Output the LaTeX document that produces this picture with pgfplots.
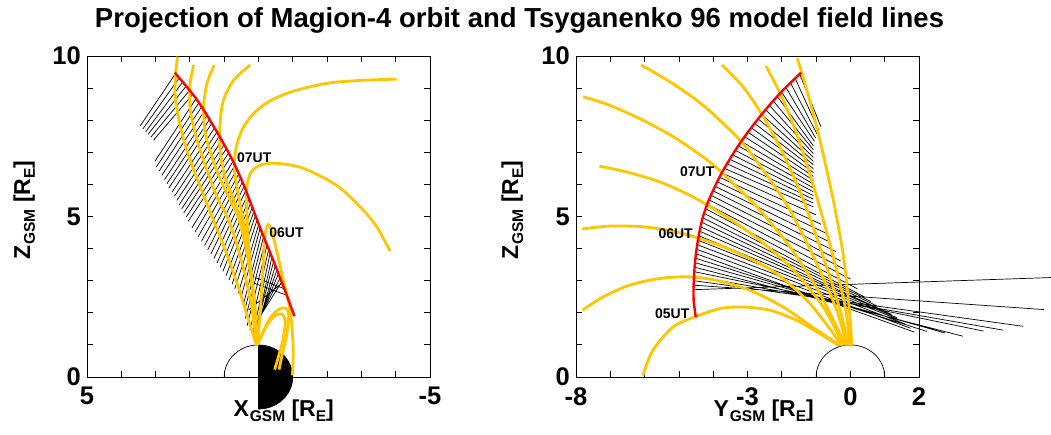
\documentclass[border=0pt]{standalone}
\usepackage{pgfplots}
\pgfplotsset{compat=1.18}
\usepackage{fontspec}
\setmainfont{Liberation Sans}
\definecolor{fl}{RGB}{255,198,0}
\newcommand{\sub}[1]{\raisebox{-5pt}{\fontsize{15.5}{15.5}\selectfont #1}}
\begin{document}
\begin{tikzpicture}
\useasboundingbox (0pt,0pt) rectangle (1051pt,435pt);
\pgfplotsset{
  panel/.style={
    scale only axis, width=343pt, height=321pt, anchor=south west,
    ymin=0, ymax=10, clip=false, unbounded coords=jump,
    ytick={0,5,10}, yticklabels={0,5,10},
    minor ytick={1,2,3,4,6,7,8,9},
    tick align=inside, major tick length=6pt, minor tick length=6pt,
    tick style={black, line width=0.8pt},
    axis line style={line width=0.9pt},
    ticklabel style={font=\fontsize{25.5}{25.5}\selectfont\bfseries},
    xticklabel style={inner sep=0pt, yshift=-10pt},
    yticklabel style={inner sep=0pt, xshift=-6pt},
  },
  yel/.style={fl, line width=2.8pt, smooth, no markers},
  hat/.style={black, line width=0.7pt, no markers},
  orb/.style={red, line width=2.4pt, smooth, no markers},
}
\node[anchor=base, font=\fontsize{27.5}{27.5}\selectfont\bfseries] at (519.5pt,407pt) {Projection of Magion-4 orbit and Tsyganenko 96 model field lines};
% ---------------- left panel -----------------
\begin{axis}[panel, at={(87pt,58pt)}, xmin=-5, xmax=5, x dir=reverse,
  xtick={-5,5}, xticklabels={-5,5}, minor xtick={-4,-3,-2,-1,0,1,2,3,4}]
\addplot[fill=black, draw=black, line width=0.6pt] coordinates {(0,1) (-0.174,0.985) (-0.342,0.940) (-0.5,0.866) (-0.643,0.766) (-0.766,0.643) (-0.866,0.5) (-0.940,0.342) (-0.985,0.174) (-1,0) (-0.985,-0.174) (-0.940,-0.342) (-0.866,-0.5) (-0.766,-0.643) (-0.643,-0.766) (-0.5,-0.866) (-0.342,-0.940) (-0.174,-0.985) (0,-1)} -- cycle;
\addplot[black, line width=0.7pt, smooth] coordinates {(1,0) (0.985,0.174) (0.940,0.342) (0.866,0.5) (0.766,0.643) (0.643,0.766) (0.5,0.866) (0.342,0.940) (0.174,0.985) (0,1)};
\addplot[hat] coordinates {
(2.42,9.45) (3.45,7.82) (nan,nan)
(2.31,9.32) (3.37,7.73) (nan,nan)
(2.21,9.19) (3.29,7.64) (nan,nan)
(2.11,9.06) (3.22,7.56) (nan,nan)
(2.01,8.93) (3.14,7.47) (nan,nan)
(1.92,8.80) (3.06,7.38) (nan,nan)
(1.82,8.67) (3.02,6.72) (nan,nan)
(1.74,8.54) (2.98,6.54) (nan,nan)
(1.66,8.41) (2.90,6.41) (nan,nan)
(1.58,8.28) (2.82,6.28) (nan,nan)
(1.50,8.15) (2.74,6.15) (nan,nan)
(1.43,8.02) (2.67,6.02) (nan,nan)
(1.37,7.89) (2.61,5.89) (nan,nan)
(1.28,7.76) (2.52,5.76) (nan,nan)
(1.21,7.63) (2.45,5.63) (nan,nan)
(1.14,7.50) (2.38,5.50) (nan,nan)
(1.07,7.37) (2.31,5.37) (nan,nan)
(1.00,7.24) (2.24,5.24) (nan,nan)
(0.94,7.11) (2.18,5.11) (nan,nan)
(0.87,6.98) (2.11,4.98) (nan,nan)
(0.81,6.85) (2.05,4.85) (nan,nan)
(0.74,6.72) (1.94,4.65) (nan,nan)
(0.69,6.59) (1.85,4.52) (nan,nan)
(0.63,6.46) (1.76,4.37) (nan,nan)
(0.57,6.33) (1.66,4.23) (nan,nan)
(0.52,6.20) (1.57,4.10) (nan,nan)
(0.47,6.07) (1.48,3.96) (nan,nan)
(0.42,5.94) (1.39,3.83) (nan,nan)
(0.37,5.81) (1.30,3.69) (nan,nan)
(0.32,5.68) (1.21,3.55) (nan,nan)
(0.27,5.55) (1.12,3.42) (nan,nan)
(0.23,5.42) (1.04,3.29) (nan,nan)
(0.18,5.29) (0.95,3.15) (nan,nan)
(0.13,5.16) (0.86,3.02) (nan,nan)
(0.09,5.03) (0.77,2.89) (nan,nan)
(0.04,4.90) (0.69,2.75) (nan,nan)
(-0.01,4.77) (0.59,2.61) (nan,nan)
(-0.05,4.64) (0.51,2.48) (nan,nan)
(-0.10,4.51) (0.42,2.34) (nan,nan)
(-0.15,4.38) (0.40,2.09) (nan,nan)
(-0.20,4.25) (0.38,1.83) (nan,nan)
(-0.25,4.12) (0.33,1.60) (nan,nan)
(-0.30,3.99) (0.25,1.45) (nan,nan)
(-0.34,3.86) (0.15,1.38) (nan,nan)
(-0.39,3.73) (0.10,1.35) (nan,nan)
(-0.44,3.60) (0.12,1.30) (nan,nan)
(-0.49,3.47) (0.08,1.35) (nan,nan)
(-0.54,3.34) (0.10,1.40) (nan,nan)
(-0.58,3.21) (0.12,1.45) (nan,nan)
(-0.63,3.08) (0.15,1.50) (nan,nan)
(-0.67,2.95) (0.15,1.55) (nan,nan)
(-0.75,2.75) (0.10,3.10) (nan,nan)
(-0.68,2.92) (0.28,2.10) (nan,nan)
(-0.82,2.55) (0.20,2.95)
};
\addplot[yel] coordinates {(2.36,9.98) (2.42,9.40) (2.42,8.63) (2.23,7.59) (1.99,6.76) (1.70,5.93) (1.36,5.01) (1.02,4.10) (0.68,3.10) (0.38,2.10) (0.18,1.40) (0.06,1.00)};
\addplot[yel] coordinates {(1.89,9.72) (1.99,9.15) (1.99,8.32) (1.79,7.38) (1.50,6.44) (1.21,5.61) (0.92,5.01) (0.65,4.20) (0.40,3.20) (0.20,2.20) (0.05,1.00)};
\addplot[yel] coordinates {(1.29,9.72) (1.50,9.15) (1.60,8.42) (1.55,7.59) (1.26,6.55) (0.92,5.72) (0.60,5.01) (0.38,4.10) (0.22,3.10) (0.10,2.00) (0.04,1.00)};
\addplot[yel] coordinates {(0.24,9.72) (0.72,9.25) (1.02,8.63) (1.12,7.90) (1.12,7.07) (0.98,6.24) (0.72,5.51) (0.46,4.67) (0.27,3.60) (0.12,2.40) (0.03,1.00)};
\addplot[yel] coordinates {(-4.03,9.28) (-3.00,9.24) (-2.00,9.15) (-1.00,8.90) (-0.30,8.58) (0.15,8.20) (0.48,7.70) (0.66,7.10) (0.70,6.45) (0.60,5.75) (0.43,4.80) (0.26,3.60) (0.12,2.30) (0.03,1.00)};
\addplot[yel] coordinates {(-3.84,3.92) (-3.50,4.59) (-3.21,5.01) (-2.82,5.46) (-2.33,5.93) (-1.75,6.29) (-1.17,6.55) (-0.49,6.66) (-0.05,6.60) (0.22,6.38) (0.33,6.00) (0.35,5.50) (0.30,4.30) (0.18,2.80) (0.08,1.60) (0.03,1.00)};
\addplot[yel] coordinates {(0.03,1.00) (-0.05,2.00) (-0.12,3.20) (-0.18,4.30) (-0.25,4.70) (-0.33,4.70) (-0.48,4.16) (-0.68,3.22) (-0.92,2.08) (-1.01,0.94) (-0.99,0.05)};
\addplot[yel] coordinates {(0.03,1.00) (-0.15,1.45) (-0.35,1.85) (-0.58,2.10) (-0.78,2.15) (-0.88,1.95) (-0.82,1.30) (-0.68,0.65) (-0.60,0.23)};
\addplot[yel] coordinates {(0.03,1.00) (-0.12,1.35) (-0.30,1.70) (-0.50,1.92) (-0.70,1.95) (-0.78,1.70) (-0.70,1.10) (-0.56,0.55) (-0.47,0.23)};
\addplot[orb] coordinates {(2.44,9.48) (2.10,9.05) (1.79,8.63) (1.50,8.15) (1.22,7.65) (0.98,7.20) (0.78,6.80) (0.58,6.35) (0.40,5.90) (0.22,5.40) (0.05,4.92) (-0.12,4.45) (-0.30,3.98) (-0.48,3.50) (-0.66,3.00) (-0.84,2.50) (-1.05,1.89)};
\node[anchor=west, font=\fontsize{14}{14}\selectfont\bfseries, inner sep=0pt] at (axis cs:0.63,6.82) {07UT};
\node[anchor=west, font=\fontsize{14}{14}\selectfont\bfseries, inner sep=0pt] at (axis cs:-0.31,4.50) {06UT};
\end{axis}
\node[anchor=base west, font=\fontsize{23}{23}\selectfont\bfseries] at (230pt,18pt) {X\hspace{1pt}\sub{GSM} [R\sub{E}]};
\node[rotate=90, anchor=base west, font=\fontsize{23}{23}\selectfont\bfseries] at (30pt,172pt) {Z\hspace{1pt}\sub{GSM} [R\sub{E}]};
% ---------------- right panel -----------------
\begin{axis}[panel, at={(576pt,58pt)}, xmin=-8, xmax=2,
  xtick={-8,-3,0,2}, xticklabels={-8,-3,0,2}, minor xtick={-7,-6,-5,-4,-2,-1,1}]
\addplot[black, line width=0.7pt, smooth] coordinates {(-1,0) (-0.985,0.174) (-0.940,0.342) (-0.866,0.5) (-0.766,0.643) (-0.643,0.766) (-0.5,0.866) (-0.342,0.940) (-0.174,0.985) (0,1) (0.174,0.985) (0.342,0.940) (0.5,0.866) (0.643,0.766) (0.766,0.643) (0.866,0.5) (0.940,0.342) (0.985,0.174) (1,0)};
\addplot[hat] coordinates {
(-1.48,9.44) (-0.86,7.80) (nan,nan)
(-1.61,9.30) (-0.92,7.68) (nan,nan)
(-1.745,9.16) (-0.97,7.56) (nan,nan)
(-1.88,9.02) (-1.01,7.44) (nan,nan)
(-2.01,8.88) (-1.05,7.34) (nan,nan)
(-2.13,8.74) (-1.08,7.20) (nan,nan)
(-2.245,8.60) (-1.08,7.08) (nan,nan)
(-2.36,8.46) (-1.08,6.96) (nan,nan)
(-2.47,8.32) (-1.08,6.84) (nan,nan)
(-2.585,8.18) (-1.08,6.72) (nan,nan)
(-2.69,8.04) (-1.08,6.61) (nan,nan)
(-2.79,7.90) (-1.08,6.49) (nan,nan)
(-2.885,7.76) (-1.08,6.37) (nan,nan)
(-2.98,7.62) (-1.08,6.25) (nan,nan)
(-3.08,7.48) (-1.08,6.13) (nan,nan)
(-3.18,7.34) (-1.08,6.01) (nan,nan)
(-3.27,7.20) (-1.08,5.89) (nan,nan)
(-3.35,7.06) (-1.08,5.77) (nan,nan)
(-3.43,6.92) (-1.08,5.65) (nan,nan)
(-3.51,6.78) (-1.08,5.54) (nan,nan)
(-3.595,6.64) (-1.08,5.42) (nan,nan)
(-3.675,6.50) (-1.08,5.30) (nan,nan)
(-3.75,6.36) (-1.00,5.05) (nan,nan)
(-3.81,6.22) (-0.86,4.76) (nan,nan)
(-3.88,6.08) (-0.71,4.48) (nan,nan)
(-3.945,5.94) (-0.57,4.19) (nan,nan)
(-4.01,5.80) (-0.43,3.91) (nan,nan)
(-4.065,5.66) (-0.29,3.62) (nan,nan)
(-4.12,5.52) (-0.14,3.34) (nan,nan)
(-4.17,5.38) (0.00,3.05) (nan,nan)
(-4.22,5.24) (0.20,2.75) (nan,nan)
(-4.265,5.10) (0.40,2.50) (nan,nan)
(-4.31,4.96) (0.60,2.35) (nan,nan)
(-4.335,4.82) (0.80,2.20) (nan,nan)
(-4.37,4.68) (1.00,2.05) (nan,nan)
(-4.395,4.54) (1.20,1.95) (nan,nan)
(-4.42,4.40) (1.35,1.85) (nan,nan)
(-4.44,4.26) (1.50,1.75) (nan,nan)
(-4.46,4.12) (1.60,1.65) (nan,nan)
(-4.485,3.98) (1.75,1.52) (nan,nan)
(-4.50,3.84) (1.86,1.40) (nan,nan)
(-4.515,3.70) (2.23,1.42) (nan,nan)
(-4.53,3.56) (2.76,1.37) (nan,nan)
(-4.54,3.42) (3.28,1.27) (nan,nan)
(-4.55,3.28) (3.88,1.43) (nan,nan)
(-4.56,3.14) (4.45,1.46) (nan,nan)
(-4.565,3.00) (5.03,1.58) (nan,nan)
(-4.57,2.86) (5.65,2.10) (nan,nan)
(-4.57,2.72) (5.89,3.10)
};
\addplot[yel] coordinates {(-6.05,0.05) (-5.76,0.83) (-5.17,1.56) (-4.54,1.87) (-3.81,2.13) (-3.13,2.18) (-2.35,2.08) (-1.57,1.77) (-0.89,1.35) (-0.35,0.99)};
\addplot[yel] coordinates {(-7.81,2.08) (-7.22,2.49) (-6.44,2.86) (-5.56,3.07) (-4.69,3.12) (-3.91,3.01) (-2.93,2.70) (-1.96,2.18) (-0.98,1.46) (-0.30,0.99)};
\addplot[yel] coordinates {(-7.82,4.61) (-7.03,4.70) (-6.05,4.68) (-5.08,4.52) (-4.10,4.21) (-3.13,3.79) (-2.15,3.22) (-1.18,2.29) (-0.25,0.99)};
\addplot[yel] coordinates {(-7.32,6.57) (-6.54,6.39) (-5.56,6.08) (-4.59,5.61) (-3.61,4.99) (-2.64,4.26) (-1.66,3.33) (-0.79,2.18) (-0.20,0.99)};
\addplot[yel] coordinates {(-7.79,8.73) (-7.03,8.47) (-6.05,8.00) (-5.08,7.43) (-4.10,6.70) (-3.42,6.03) (-2.64,5.20) (-1.76,4.05) (-0.89,2.60) (-0.15,0.99)};
\addplot[yel] coordinates {(-6.10,9.72) (-5.27,9.20) (-4.30,8.47) (-3.22,7.38) (-2.54,6.44) (-1.76,5.20) (-0.98,3.53) (-0.40,2.08) (-0.11,0.99)};
\addplot[yel] coordinates {(-3.74,9.72) (-3.13,9.04) (-2.54,8.11) (-1.96,6.96) (-1.37,5.51) (-0.79,3.74) (-0.30,2.08) (-0.06,0.99)};
\addplot[yel] coordinates {(-2.46,9.69) (-1.96,8.63) (-1.47,7.28) (-0.98,5.61) (-0.50,3.74) (-0.15,2.18) (-0.01,0.99)};
\addplot[yel] coordinates {(-1.55,9.93) (-1.27,8.94) (-0.89,7.38) (-0.50,5.51) (-0.20,3.74) (-0.03,2.08) (0.04,0.99)};
\addplot[orb] coordinates {(-4.51,1.87) (-4.57,2.40) (-4.57,2.91) (-4.54,3.45) (-4.49,3.95) (-4.41,4.47) (-4.30,4.99) (-4.16,5.42) (-4.00,5.82) (-3.71,6.44) (-3.22,7.28) (-2.64,8.11) (-2.05,8.84) (-1.44,9.48)};
\node[anchor=east, font=\fontsize{14}{14}\selectfont\bfseries, inner sep=0pt] at (axis cs:-3.96,6.39) {07UT};
\node[anchor=east, font=\fontsize{14}{14}\selectfont\bfseries, inner sep=0pt] at (axis cs:-4.59,4.45) {06UT};
\node[anchor=east, font=\fontsize{14}{14}\selectfont\bfseries, inner sep=0pt] at (axis cs:-4.69,1.98) {05UT};
\end{axis}
\node[anchor=base west, font=\fontsize{23}{23}\selectfont\bfseries] at (710pt,18pt) {Y\hspace{1pt}\sub{GSM} [R\sub{E}]};
\node[rotate=90, anchor=base west, font=\fontsize{23}{23}\selectfont\bfseries] at (518pt,172pt) {Z\hspace{1pt}\sub{GSM} [R\sub{E}]};
\end{tikzpicture}
\end{document}
